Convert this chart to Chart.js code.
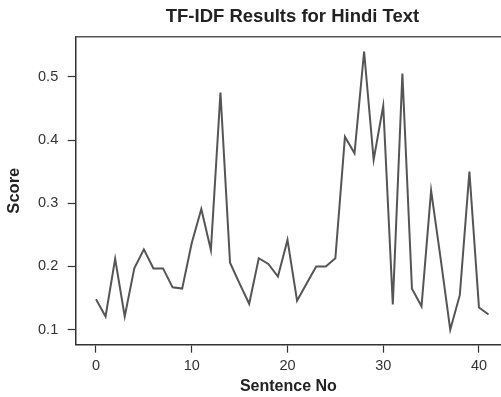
<!DOCTYPE html>
<html>
<head>
<meta charset="utf-8">
<script src="https://cdn.jsdelivr.net/npm/chart.js@4/dist/chart.umd.min.js"></script>
<style>
  html, body { margin: 0; padding: 0; background: #fff; }
  #wrap { width: 501px; height: 397px; position: relative; }
</style>
</head>
<body>
<div id="wrap"><canvas id="c"></canvas></div>
<script>
const sentenceNo = [0,1,2,3,4,5,6,7,8,9,10,11,12,13,14,15,16,17,18,19,20,21,22,23,24,25,26,27,28,29,30,31,32,33,34,35,36,37,38,39,40,41];
const scores = [0.148,0.121,0.212,0.121,0.197,0.227,0.197,0.197,0.167,0.165,0.237,0.291,0.226,0.475,0.206,0.173,0.141,0.213,0.204,0.184,0.242,0.146,0.173,0.200,0.200,0.213,0.405,0.379,0.540,0.369,0.454,0.140,0.505,0.165,0.137,0.320,0.212,0.100,0.155,0.350,0.135,0.124];
const xTicks = [0,10,20,30,40];
const yTicks = [0.1,0.2,0.3,0.4,0.5];
const chartTitle = 'TF-IDF Results for Hindi Text';

const ink = '#333333';
const FONT = "'Liberation Sans', Arial, Helvetica, sans-serif";

const frameAndTitle = {
  id: 'frameAndTitle',
  afterDraw(chart) {
    const {ctx, chartArea} = chart;
    ctx.save();
    ctx.strokeStyle = '#555555';
    ctx.lineWidth = 1.5;
    ctx.beginPath();
    ctx.moveTo(chartArea.left, chartArea.top);
    ctx.lineTo(chartArea.right, chartArea.top);
    ctx.stroke();
    ctx.fillStyle = '#222222';
    ctx.font = "bold 18.5px " + FONT;
    ctx.textAlign = 'center';
    ctx.textBaseline = 'alphabetic';
    ctx.fillText(chartTitle, 292.5, 21.8);
    ctx.restore();
  }
};

new Chart(document.getElementById('c'), {
  type: 'line',
  data: {
    datasets: [{
      data: sentenceNo.map((x, i) => ({x: x, y: scores[i]})),
      borderColor: '#555555',
      borderWidth: 2,
      pointRadius: 0,
      tension: 0,
      fill: false
    }]
  },
  options: {
    responsive: true,
    maintainAspectRatio: false,
    animation: false,
    layout: { padding: { top: 36.7, left: 0, right: 0, bottom: 0 } },
    plugins: {
      legend: { display: false },
      tooltip: { enabled: false },
      title: { display: false }
    },
    scales: {
      x: {
        type: 'linear',
        min: -2.12,
        max: 42.3,
        afterBuildTicks(scale) { scale.ticks = xTicks.map(v => ({value: v})); },
        afterFit(scale) { scale.height = 52.3; },
        grid: { drawOnChartArea: false, drawTicks: true, tickLength: 8, tickColor: ink, tickWidth: 1.2 },
        border: { display: true, color: ink, width: 1.5 },
        ticks: { color: '#333333', font: { family: FONT, size: 14.5 }, padding: 5, maxRotation: 0 },
        title: { display: true, text: 'Sentence No', color: '#222222', font: { family: FONT, size: 16, weight: 'bold', lineHeight: 1.2 }, padding: { top: 0, bottom: 1 } }
      },
      y: {
        type: 'linear',
        min: 0.0763,
        max: 0.5634,
        afterBuildTicks(scale) { scale.ticks = yTicks.map(v => ({value: v})); },
        afterFit(scale) { scale.width = 75.7; },
        grid: { drawOnChartArea: false, drawTicks: true, tickLength: 8, tickColor: ink, tickWidth: 1.2 },
        border: { display: true, color: ink, width: 1.5 },
        ticks: { color: '#333333', font: { family: FONT, size: 14.5 }, padding: 9.5, callback: v => v.toFixed(1) },
        title: { display: true, text: 'Score', color: '#222222', font: { family: FONT, size: 16.5, weight: 'bold', lineHeight: 1.2 }, padding: { top: 5, bottom: 0 } }
      }
    }
  },
  plugins: [frameAndTitle]
});
</script>
</body>
</html>
